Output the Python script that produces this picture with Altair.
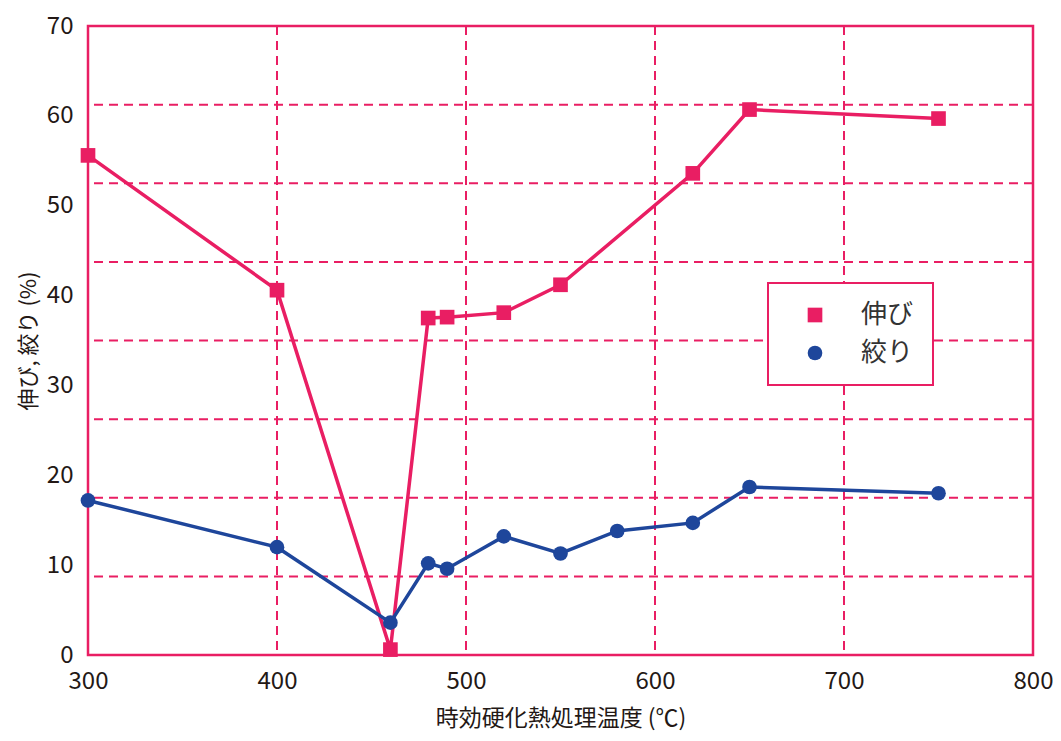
import altair as alt
import pandas as pd

PINK = "#E91E63"
BLUE = "#1E469B"
TEXT = "#231815"

series_names = ["伸び", "絞り"]
elong_temp = [300, 400, 460, 480, 490, 520, 550, 620, 650, 750]
elong_val = [55.6, 40.6, 0.6, 37.5, 37.6, 38.1, 41.2, 53.6, 60.7, 59.7]
red_temp = [300, 400, 460, 480, 490, 520, 550, 580, 620, 650, 750]
red_val = [17.2, 12.0, 3.6, 10.2, 9.6, 13.2, 11.3, 13.8, 14.7, 18.7, 18.0]

x_ticks = [300, 400, 500, 600, 700, 800]
y_ticks = [0, 10, 20, 30, 40, 50, 60, 70]
grid_x = [400, 500, 600, 700]
grid_y = [8.75, 17.5, 26.25, 35, 43.75, 52.5, 61.25]

df = pd.concat([
    pd.DataFrame({"temp": elong_temp, "value": elong_val, "series": series_names[0]}),
    pd.DataFrame({"temp": red_temp, "value": red_val, "series": series_names[1]}),
])

xscale = alt.Scale(domain=[300, 800], nice=False, zero=False)
yscale = alt.Scale(domain=[0, 70], nice=False)

x_axis = alt.Axis(values=x_ticks, grid=False, ticks=False, domain=False,
                  labelFlush=False, title="時効硬化熱処理温度 (℃)", labelPadding=14,
                  labelFontSize=24, titleFontSize=23, titlePadding=14)
y_axis = alt.Axis(values=y_ticks, grid=False, ticks=False, domain=False,
                  labelFlush=False, title="伸び, 絞り (%)", labelPadding=15,
                  labelFontSize=24, titleFontSize=22, titlePadding=6)

x_enc = alt.X("temp:Q", scale=xscale, axis=x_axis)
y_enc = alt.Y("value:Q", scale=yscale, axis=y_axis)

color_scale = alt.Scale(domain=series_names, range=[PINK, BLUE])
shape_scale = alt.Scale(domain=series_names, range=["square", "circle"])

leg = alt.Legend(title=None, orient="none", legendX=680, legendY=257,
                 direction="vertical", fillColor="white", strokeColor=PINK,
                 padding=19, symbolOffset=15, labelOffset=33, rowPadding=12,
                 symbolSize=215, labelFontSize=26, labelColor="#333333",
                 symbolStrokeWidth=0)

hgrid = alt.Chart(pd.DataFrame({"value": grid_y})).mark_rule(
    color=PINK, strokeDash=[9, 6], strokeWidth=2
).encode(y=y_enc)

vgrid = alt.Chart(pd.DataFrame({"temp": grid_x})).mark_rule(
    color=PINK, strokeDash=[9, 6], strokeWidth=2
).encode(x=x_enc)

line_e = alt.Chart(df).transform_filter(
    alt.datum.series == series_names[0]
).mark_line(strokeWidth=3.5, color=PINK).encode(x=x_enc, y=y_enc)

line_r = alt.Chart(df).transform_filter(
    alt.datum.series == series_names[1]
).mark_line(strokeWidth=3.5, color=BLUE).encode(x=x_enc, y=y_enc)

points = alt.Chart(df).mark_point(filled=True, size=215, opacity=1).encode(
    x=x_enc, y=y_enc,
    color=alt.Color("series:N", scale=color_scale, legend=leg),
    shape=alt.Shape("series:N", scale=shape_scale, legend=leg),
)

chart = alt.layer(hgrid, vgrid, line_e, line_r, points).properties(
    width=945, height=629,
    autosize=alt.AutoSizeParams(type="none"),
    padding={"left": 80, "top": 18, "right": 20, "bottom": 76},
).configure(
    font="Noto Sans CJK JP"
).configure_view(
    stroke=PINK, strokeWidth=2.5
).configure_axis(
    labelColor=TEXT, titleColor=TEXT, titleFontWeight="normal",
    labelFont="Noto Sans CJK JP", titleFont="Noto Sans CJK JP"
).configure_legend(
    strokeWidth=2
)

chart.save("out.html", embed_options={"renderer": "svg", "actions": False})
